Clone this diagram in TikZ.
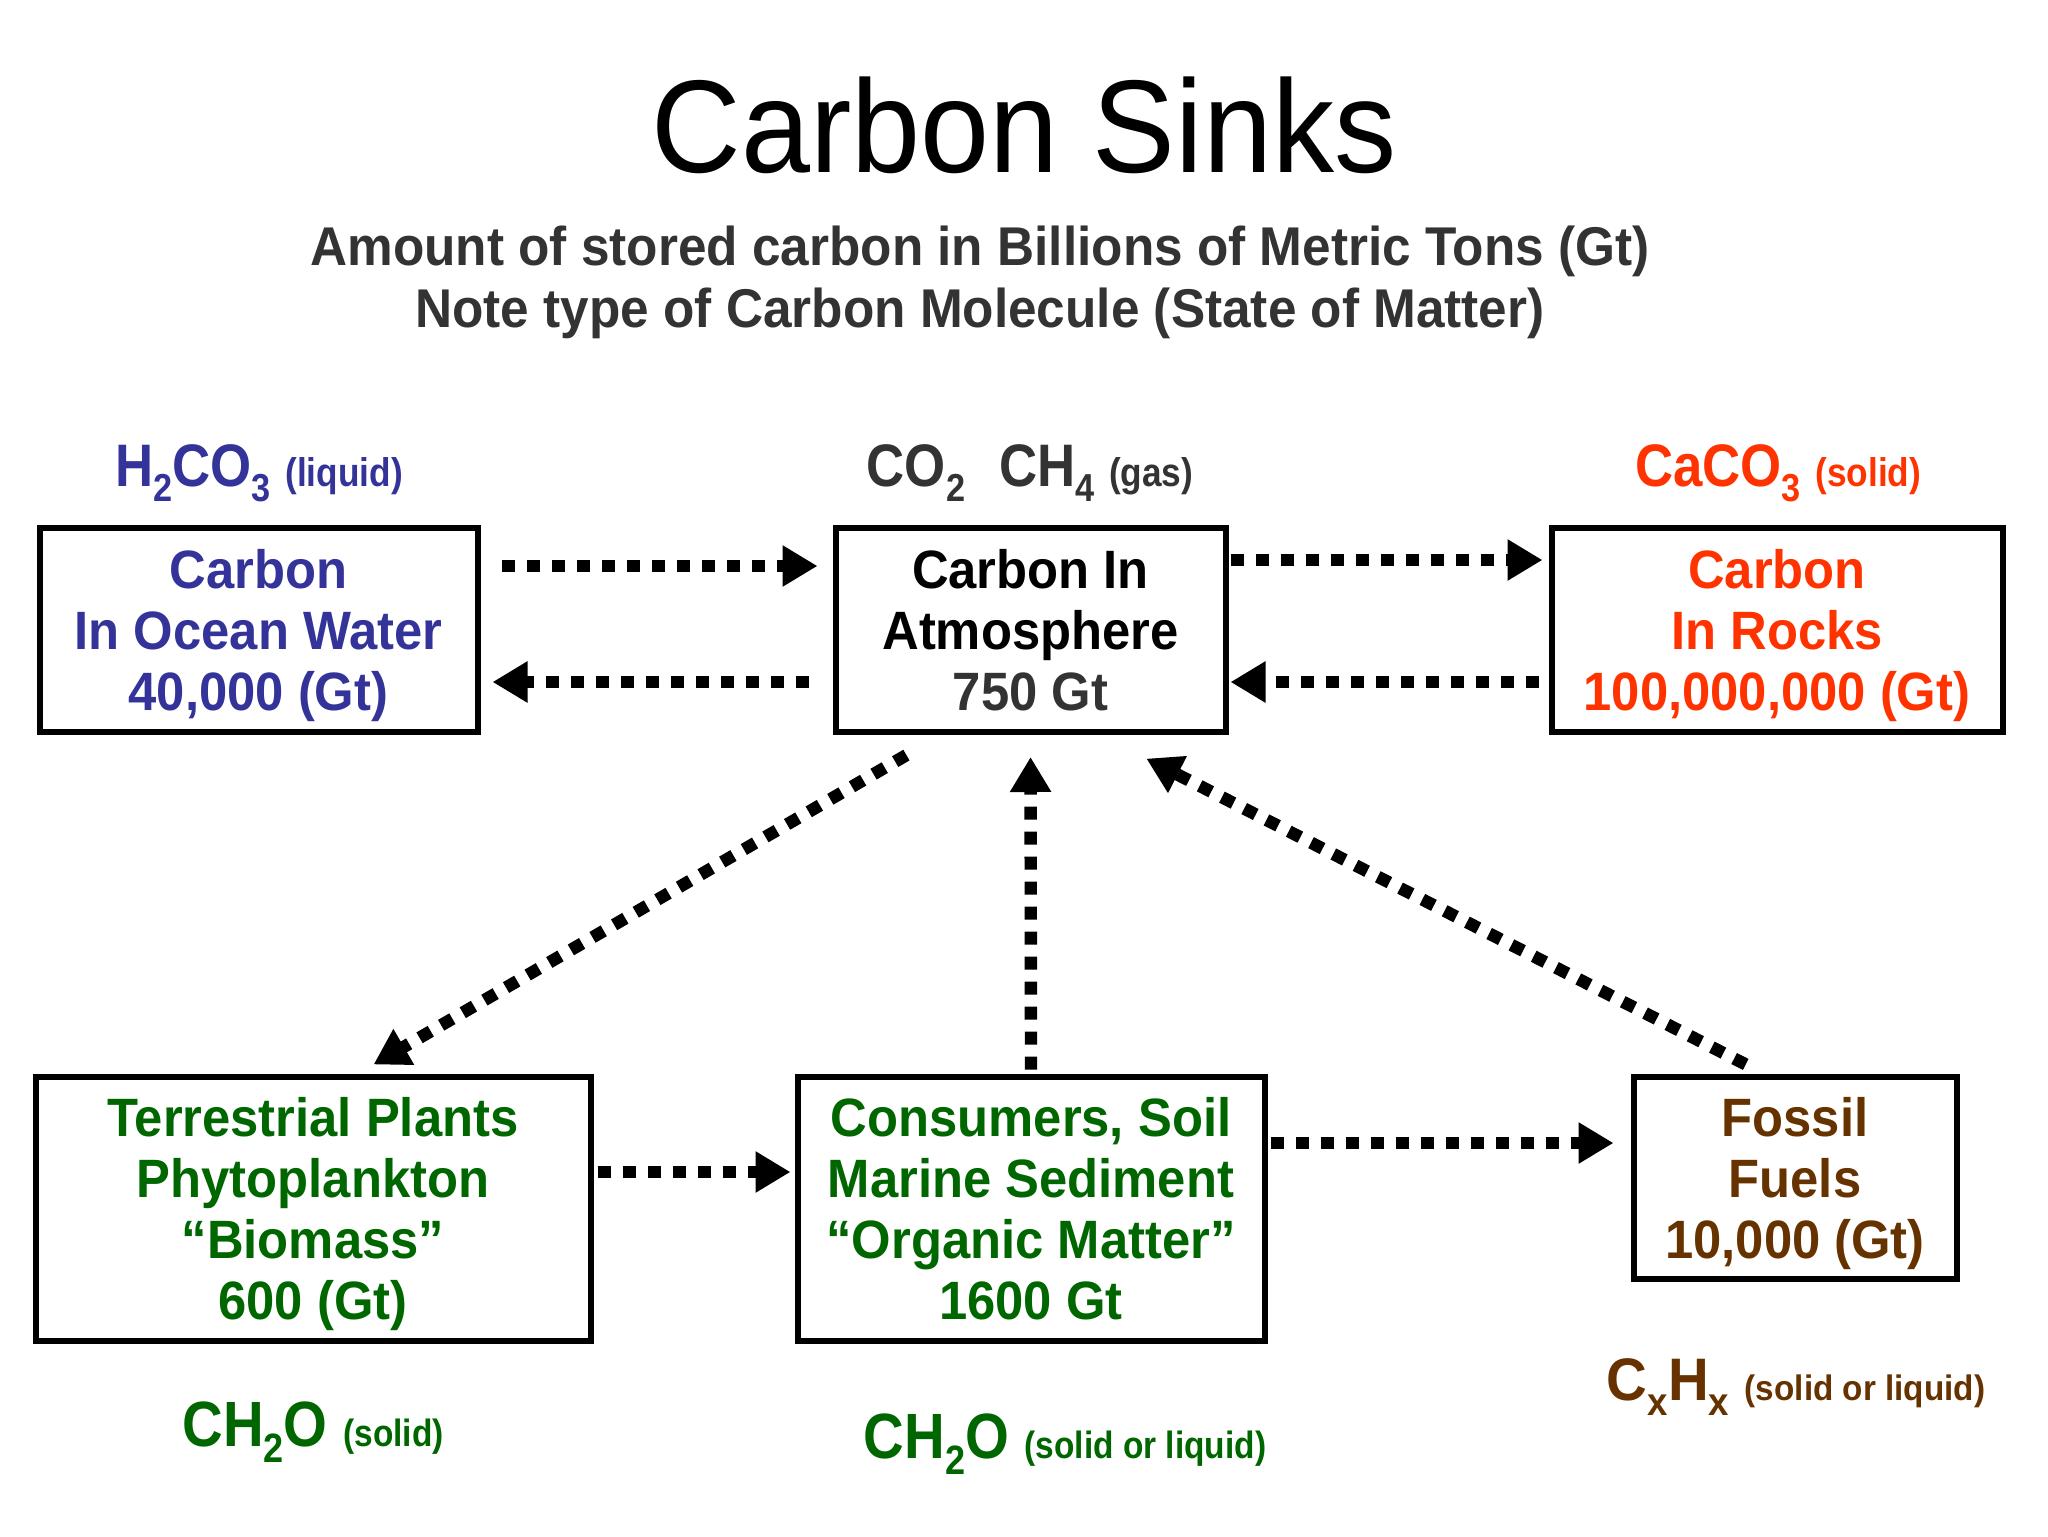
\documentclass[tikz,border=0pt]{standalone}
\usepackage{fontspec}
\setmainfont{Liberation Sans}
\newfontfamily\cond{Liberation Sans}[FakeStretch=0.94]
\newfontfamily\condn{Liberation Sans}[FakeStretch=0.88]
\usetikzlibrary{arrows.meta}
\definecolor{oblue}{HTML}{333399}
\definecolor{rred}{HTML}{FF3300}
\definecolor{pgreen}{HTML}{006600}
\definecolor{fbrown}{HTML}{663300}
\definecolor{dgray}{HTML}{333333}
\newcommand\fs[2]{\fontsize{#1}{#2}\selectfont}
\newcommand\sbx[1]{\raisebox{-0.26em}{\fs{19.5}{19.5}#1}}
\newcommand\sbb[1]{\raisebox{-0.26em}{\fs{20.5}{20.5}#1}}
\begin{document}
\begin{tikzpicture}[x=0.5pt,y=-0.5pt,
  box/.style={draw=black, line width=3pt, inner sep=0pt, align=center,
    text depth=0pt, font=\cond\bfseries\fs{27}{30.5}},
  lbl/.style={anchor=base, inner sep=0pt, font=\condn\bfseries\fs{30}{30}},
  lblb/.style={anchor=base, inner sep=0pt, font=\condn\bfseries\fs{32}{32}},
  lblc/.style={anchor=base, inner sep=0pt, font=\cond\bfseries\fs{30}{30}},
  flow/.style={line width=6.2pt, dash pattern=on 6.5pt off 6pt,
    -{Triangle[width=19.5pt,length=17.5pt]}}]
\useasboundingbox[fill=white] (0,0) rectangle (2048,1536);

% title
\node[anchor=base, inner sep=0pt, font=\cond\fs{66}{66}] (title) at (1024,172) {Carbon Sinks};
\node[anchor=base, inner sep=0pt, text=dgray, font=\cond\bfseries\fs{27.3}{27.3}] (sub1) at (980,265) {Amount of stored carbon in Billions of Metric Tons (Gt)};
\node[anchor=base, inner sep=0pt, text=dgray, font=\cond\bfseries\fs{27.3}{27.3}] (sub2) at (980,327) {Note type of Carbon Molecule (State of Matter)};

% boxes
\node[box, minimum width=219pt, minimum height=102pt, text=oblue] (ocean) at (258.5,630) {Carbon\\In Ocean Water\\40,000 (Gt)};
\node[box, minimum width=195pt, minimum height=102pt, text=black] (atm) at (1030.5,630) {Carbon In\\Atmosphere\\\textcolor{dgray}{750 Gt}};
\node[box, minimum width=225.5pt, minimum height=102pt, text=rred] (rocks) at (1777,630) {Carbon\\In Rocks\\100,000,000 (Gt)};
\node[box, minimum width=277.5pt, minimum height=132pt, text=pgreen] (terr) at (313,1208.5) {Terrestrial Plants\\Phytoplankton\\“Biomass”\\600 (Gt)};
\node[box, minimum width=233.5pt, minimum height=132pt, text=pgreen] (cons) at (1031,1208.5) {Consumers, Soil\\Marine Sediment\\“Organic Matter”\\1600 Gt};
\node[box, minimum width=161.5pt, minimum height=101pt, text=fbrown] (fossil) at (1795,1177.5) {Fossil\\Fuels\\10,000 (Gt)};

% formula labels
\node[lbl, text=oblue] (focean) at (259,486) {H\sbx{2}CO\sbx{3} {\fs{20}{20}(liquid)}};
\node[lbl, text=dgray] (fatm) at (1030,486) {CO\sbx{2}\hspace{17pt}CH\sbx{4} {\fs{20}{20}(gas)}};
\node[lbl, text=rred] (frocks) at (1778,486) {CaCO\sbx{3} {\fs{20}{20}(solid)}};
\node[lblb, text=pgreen] (fterr) at (313,1446) {CH\sbb{2}O {\fs{19}{19}(solid)}};
\node[lblb, text=pgreen] (fcons) at (1065,1458) {CH\sbb{2}O {\fs{19}{19}(solid or liquid)}};
\node[lblc, text=fbrown] (ffossil) at (1796,1400) {C\sbx{x}H\sbx{x} {\fs{17.7}{17.7}(solid or liquid)}};

% connectors
\draw[flow, shorten <=10.5pt, shorten >=7.5pt] ([yshift=32pt]ocean.east) -- ([yshift=32pt]atm.west);
\draw[flow, shorten <=12pt, shorten >=6pt] ([yshift=-26pt]atm.west) -- ([yshift=-26pt]ocean.east);
\draw[flow, shorten <=1pt, shorten >=3pt] ([yshift=35pt]atm.east) -- ([yshift=35pt]rocks.west);
\draw[flow, shorten <=5pt, shorten >=1pt] ([yshift=-26pt]rocks.west) -- ([yshift=-26pt]atm.east);
\draw[flow, shorten <=20pt, shorten >=9pt] ([xshift=-44.75pt]atm.south) -- ([xshift=22.5pt]terr.north);
\draw[flow, shorten <=2pt, shorten >=11pt] (cons.north) -- (atm.south);
\draw[flow, shorten <=10pt, shorten >=26pt] ([xshift=-15.75pt]fossil.north) -- ([xshift=34.75pt]atm.south);
\draw[flow, shorten <=2pt, shorten >=2pt] ([yshift=18.25pt]terr.east) -- ([yshift=18.25pt]cons.west);
\coordinate (c9) at ([yshift=32.75pt]cons.east);
\draw[flow, shorten <=1.5pt, shorten >=8.5pt] (c9) -- (fossil.west |- c9);
\end{tikzpicture}
\end{document}
